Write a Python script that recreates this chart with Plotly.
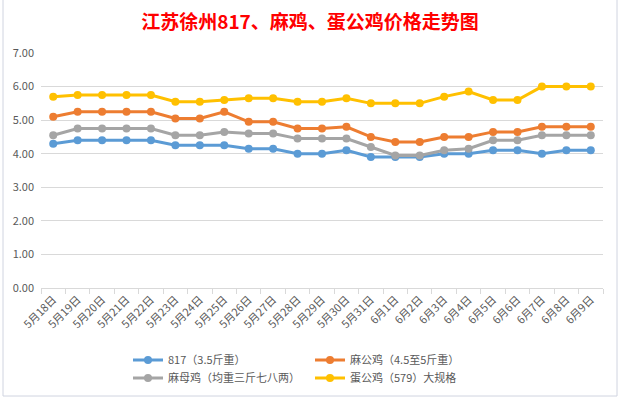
import plotly.graph_objects as go

dates = ["5月18日", "5月19日", "5月20日", "5月21日", "5月22日", "5月23日", "5月24日", "5月25日",
         "5月26日", "5月27日", "5月28日", "5月29日", "5月30日", "5月31日", "6月1日", "6月2日",
         "6月3日", "6月4日", "6月5日", "6月6日", "6月7日", "6月8日", "6月9日"]

s817 = [4.3, 4.4, 4.4, 4.4, 4.4, 4.25, 4.25, 4.25, 4.15, 4.15, 4.0, 4.0,
        4.1, 3.9, 3.9, 3.9, 4.0, 4.0, 4.1, 4.1, 4.0, 4.1, 4.1]
ma_gong = [5.1, 5.25, 5.25, 5.25, 5.25, 5.05, 5.05, 5.25, 4.95, 4.95, 4.75, 4.75,
           4.8, 4.5, 4.35, 4.35, 4.5, 4.5, 4.65, 4.65, 4.8, 4.8, 4.8]
ma_mu = [4.55, 4.75, 4.75, 4.75, 4.75, 4.55, 4.55, 4.65, 4.6, 4.6, 4.45, 4.45,
         4.45, 4.2, 3.95, 3.95, 4.1, 4.15, 4.4, 4.4, 4.55, 4.55, 4.55]
dan_gong = [5.7, 5.75, 5.75, 5.75, 5.75, 5.55, 5.55, 5.6, 5.65, 5.65, 5.55, 5.55,
            5.65, 5.5, 5.5, 5.5, 5.7, 5.85, 5.6, 5.6, 6.0, 6.0, 6.0]

names = ["817（3.5斤重）", "麻公鸡（4.5至5斤重）", "麻母鸡（均重三斤七八两）", "蛋公鸡（579）大规格"]
colors = ["#5B9BD5", "#ED7D31", "#A5A5A5", "#FFC000"]
series = [s817, ma_gong, ma_mu, dan_gong]
legends = ["legend", "legend", "legend2", "legend2"]

font = "Noto Sans CJK SC"
fig = go.Figure()
for name, col, vals, lg in zip(names, colors, series, legends):
    fig.add_trace(go.Scatter(
        x=dates, y=vals, name=name, mode="lines+markers",
        line=dict(color=col, width=3), marker=dict(color=col, size=8),
        legend=lg,
    ))

W, H = 620, 399
ml, mr, mt, mb = 41, 17, 53, 111
ph = H - mt - mb

def py(ypx):
    return (H - mb - ypx) / ph

def px(xpx):
    return (xpx - ml) / (W - ml - mr)

leg_common = dict(orientation="h", xanchor="left", yanchor="middle",
                  font=dict(family=font, size=11, color="#595959"),
                  entrywidth=137, entrywidthmode="pixels", itemwidth=30,
                  bgcolor="rgba(0,0,0,0)", tracegroupgap=0)

fig.update_layout(
    width=W, height=H,
    margin=dict(l=ml, r=mr, t=mt, b=mb, autoexpand=False),
    paper_bgcolor="white", plot_bgcolor="white",
    title=dict(text="<b>江苏徐州817、麻鸡、蛋公鸡价格走势图</b>", x=0.5, xanchor="center",
               y=1 - 22 / H, yanchor="middle",
               font=dict(family=font, size=19, color="#FF0000")),
    showlegend=True,
    legend=dict(x=px(128), y=py(360), **leg_common),
    legend2=dict(x=px(128), y=py(378), **leg_common),
    xaxis=dict(type="category", showgrid=False, showline=True, linecolor="#D9D9D9", linewidth=1,
               ticks="outside", tickson="boundaries", ticklen=5, tickcolor="#D9D9D9",
               tickangle=-45, tickfont=dict(family=font, size=11, color="#595959"),
               automargin=False, range=[-0.5, len(dates) - 0.5]),
    yaxis=dict(range=[0, 7], dtick=1, tickformat=".2f", showgrid=True, gridcolor="#D9D9D9",
               gridwidth=1, zeroline=False, showline=False, ticks="", automargin=False,
               tickfont=dict(family=font, size=11, color="#595959"), ticklabelstandoff=6),
)

# chart-area border (spreadsheet frame)
fig.add_shape(type="line", xref="paper", yref="paper", x0=px(3), x1=px(3), y0=py(396), y1=py(0),
              line=dict(color="#D0D4E0", width=1))
fig.add_shape(type="line", xref="paper", yref="paper", x0=px(617), x1=px(617), y0=py(396), y1=py(0),
              line=dict(color="#D0D4E0", width=1))
fig.add_shape(type="line", xref="paper", yref="paper", x0=px(3), x1=px(617), y0=py(396), y1=py(396),
              line=dict(color="#D0D4E0", width=1))

fig.write_html("out.html", config={"displayModeBar": False},
               post_script="document.body.style.margin='0';")
